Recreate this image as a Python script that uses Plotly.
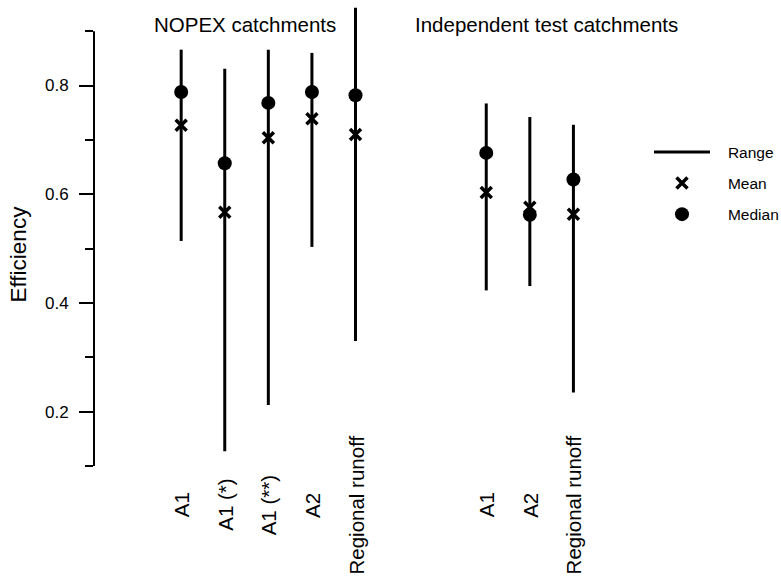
import plotly.graph_objects as go

# ---- data ----
nopex_labels = ["A1", "A1 (*)", "A1 (**)", "A2", "Regional runoff"]
test_labels = ["A1", "A2", "Regional runoff"]
group_titles = ["NOPEX catchments", "Independent test catchments"]
legend_names = ["Range", "Mean", "Median"]

range_min = [0.514, 0.127, 0.212, 0.503, 0.330, 0.423, 0.431, 0.235]
range_max = [0.866, 0.831, 0.866, 0.860, 0.943, 0.767, 0.742, 0.728]
mean_vals = [0.727, 0.567, 0.704, 0.739, 0.710, 0.603, 0.576, 0.563]
median_vals = [0.788, 0.657, 0.768, 0.788, 0.782, 0.676, 0.562, 0.627]

y_tick_vals = [0.2, 0.4, 0.6, 0.8]
y_tick_text = ["0.2", "0.4", "0.6", "0.8"]
y_minor_vals = [0.1, 0.3, 0.5, 0.7, 0.9]

# ---- category positions (two groups separated by a gap) ----
x_pos = [2 + i for i in range(len(nopex_labels))] + [9 + i for i in range(len(test_labels))]
labels = nopex_labels + test_labels

FONT = "Liberation Sans, Arial, Helvetica, sans-serif"
PAD = "\u00a0\u00a0\u00a0"

line_x, line_y = [], []
for xp, lo, hi in zip(x_pos, range_min, range_max):
    line_x += [xp, xp, None]
    line_y += [lo, hi, None]

fig = go.Figure()
fig.add_trace(go.Scatter(x=line_x, y=line_y, mode="lines", name=PAD + legend_names[0],
                         line=dict(color="black", width=3), legendgroup="r", legendrank=1))
fig.add_trace(go.Scatter(x=x_pos, y=median_vals, mode="markers", name=PAD + legend_names[2],
                         marker=dict(symbol="circle", size=14, color="black"),
                         legendgroup="md", legendrank=3))
fig.add_trace(go.Scatter(x=x_pos, y=mean_vals, mode="markers", name=PAD + legend_names[1],
                         marker=dict(symbol="x-thin", size=11, color="black",
                                     line=dict(color="black", width=3.5)),
                         legendgroup="mn", legendrank=2))

ML, MR, MT, MB = 94, 164, 4, 111
W, H = 781, 577
pw = W - ML - MR
ph = H - MT - MB

def py(pix):
    return (ph - (pix - MT)) / ph

def px(pix):
    return (pix - ML) / pw

annotations = []
for xp, lab in zip(x_pos, labels):
    annotations.append(dict(x=xp, y=py(505), xref="x", yref="paper",
                            xanchor="center", yanchor="middle",
                            text=lab, textangle=-90, showarrow=False,
                            font=dict(family=FONT, size=20.5, color="black")))
annotations.append(dict(x=1.33, y=py(24.5), xref="x", yref="paper",
                        xanchor="left", yanchor="middle",
                        text=group_titles[0], showarrow=False,
                        font=dict(family=FONT, size=20.5, color="black")))
annotations.append(dict(x=7.31, y=py(24.5), xref="x", yref="paper",
                        xanchor="left", yanchor="middle",
                        text=group_titles[1], showarrow=False,
                        font=dict(family=FONT, size=20.5, color="black")))
annotations.append(dict(x=px(18.5), y=0.49, xref="paper", yref="y",
                        xanchor="center", yanchor="middle",
                        text="Efficiency", textangle=-90, showarrow=False,
                        font=dict(family=FONT, size=22.5, color="black")))

fig.update_layout(
    width=W, height=H,
    margin=dict(l=ML, r=MR, t=MT, b=MB, autoexpand=False),
    paper_bgcolor="white", plot_bgcolor="white",
    font=dict(family=FONT, color="black"),
    showlegend=True,
    legend=dict(x=px(649), y=py(135.3), xanchor="left", yanchor="top",
                font=dict(family=FONT, size=15.5, color="black"),
                itemwidth=56, tracegroupgap=8, bgcolor="rgba(0,0,0,0)"),
    annotations=annotations,
    shapes=[dict(type="line", xref="paper", yref="y", x0=0, x1=0, y0=0.1, y1=0.9,
                 line=dict(color="black", width=2))],
)
fig.update_xaxes(range=[0, 12], showgrid=False, zeroline=False, showline=False,
                 showticklabels=False, ticks="")
fig.update_yaxes(range=[0.0999, 0.95], showgrid=False, zeroline=False, showline=False,
                 tickmode="array", tickvals=y_tick_vals, ticktext=y_tick_text,
                 ticks="outside", ticklen=14, tickwidth=2, tickcolor="black",
                 ticklabelstandoff=7,
                 tickfont=dict(family=FONT, size=17, color="black"),
                 minor=dict(tickmode="array", tickvals=y_minor_vals,
                            ticks="outside", ticklen=8, tickwidth=2, tickcolor="black"))

post = "document.body.style.margin='0';document.body.style.overflow='hidden';"
fig.write_html("out.html", post_script=post, config={"displayModeBar": False})
